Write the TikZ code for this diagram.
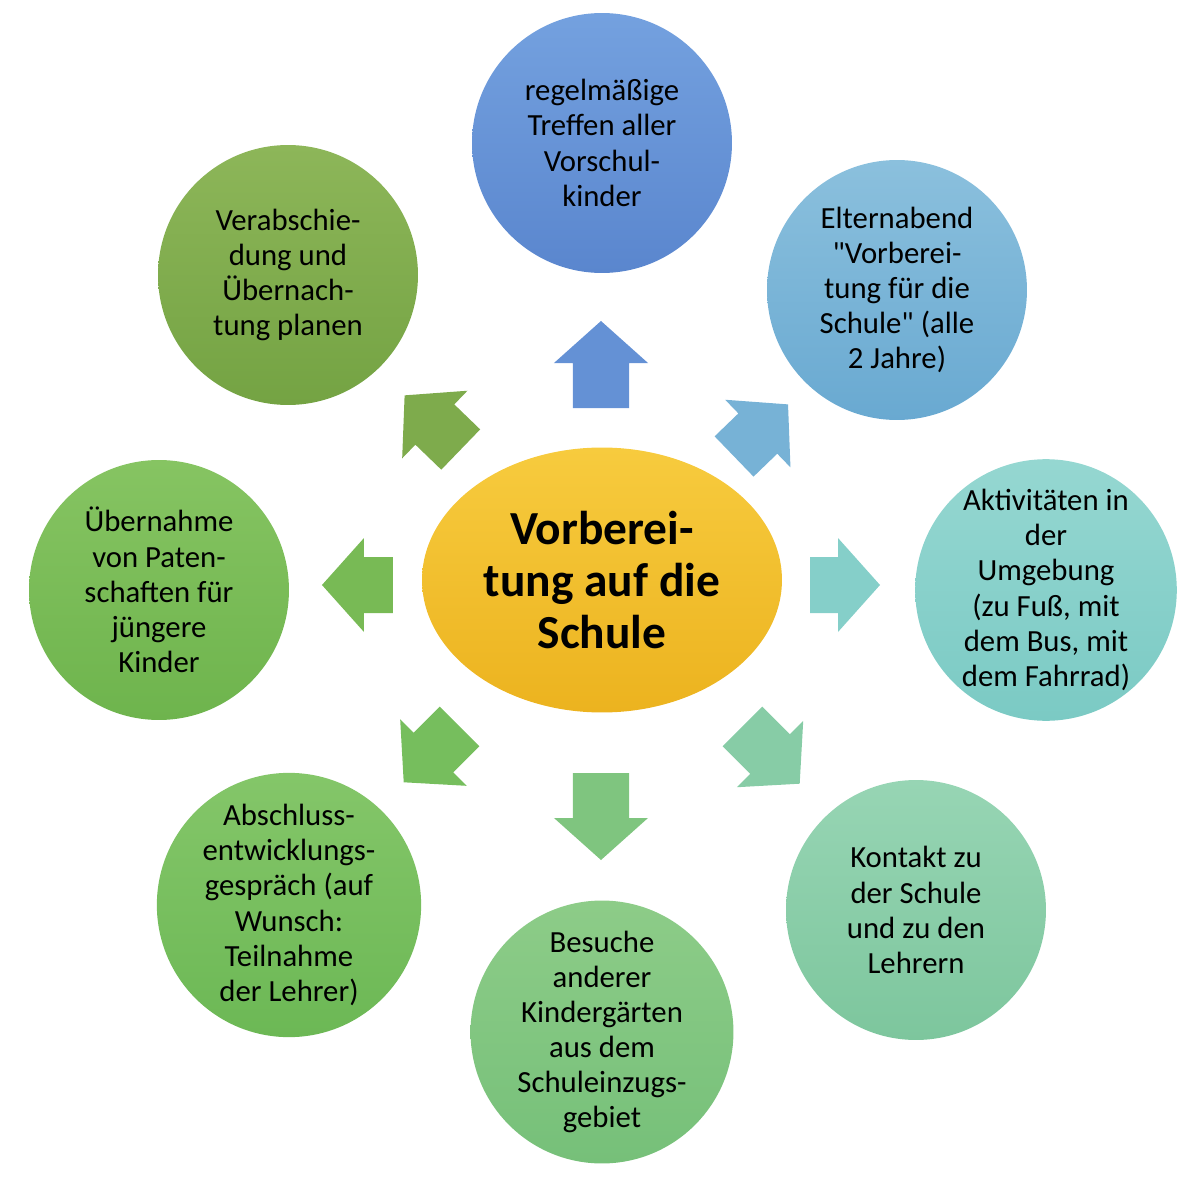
\documentclass[tikz,border=0pt]{standalone}
\usepackage{fontspec}
\setmainfont{Carlito}
\usetikzlibrary{shapes.geometric}

\definecolor{topA}{HTML}{74A1DF}\definecolor{topB}{HTML}{5A86CE}
\definecolor{trA}{HTML}{8BC0DD}\definecolor{trB}{HTML}{69A9D1}
\definecolor{rtA}{HTML}{95D7D1}\definecolor{rtB}{HTML}{7BCAC4}
\definecolor{brA}{HTML}{97D5B4}\definecolor{brB}{HTML}{7DC69D}
\definecolor{btA}{HTML}{8DCC88}\definecolor{btB}{HTML}{76C079}
\definecolor{blA}{HTML}{84C669}\definecolor{blB}{HTML}{6CB855}
\definecolor{ltA}{HTML}{86C462}\definecolor{ltB}{HTML}{6EB44D}
\definecolor{tlA}{HTML}{8DB659}\definecolor{tlB}{HTML}{74A343}
\definecolor{hubA}{HTML}{F7CB3E}\definecolor{hubB}{HTML}{ECB31F}

\tikzset{
  topic/.style={circle, minimum size=5.2cm, inner sep=0pt, align=center,
    font=\fontsize{17.5}{20}\selectfont},
  hub/.style={ellipse, minimum width=7.2cm, minimum height=5.3cm, inner sep=0pt,
    align=center, top color=hubA, bottom color=hubB,
    font=\fontsize{27}{29.8}\selectfont\bfseries}
}

\begin{document}
\begin{tikzpicture}[x=0.02cm, y=0.02cm]
  \useasboundingbox (-601,-602) rectangle (599,585);
  \node[hub] (hub) at (1,5) {Vorberei-\\tung auf die\\Schule};

  \node[topic, top color=topA, bottom color=topB] (treffen) at (1,442)
    {regelmäßige\\Treffen aller\\Vorschul-\\kinder};
  \node[topic, top color=trA, bottom color=trB] (eltern) at (296,295)
    {Elternabend\\\textquotedbl Vorberei-\\tung für die\\Schule\textquotedbl{} (alle\\2 Jahre)};
  \node[topic, top color=rtA, bottom color=rtB] (umgebung) at (445,-5)
    {Aktivitäten in\\der\\Umgebung\\(zu Fuß, mit\\dem Bus, mit\\dem Fahrrad)};
  \node[topic, top color=brA, bottom color=brB] (kontakt) at (315,-325)
    {Kontakt zu\\der Schule\\und zu den\\Lehrern};
  \node[topic, top color=btA, bottom color=btB] (besuche) at (1,-447)
    {Besuche\\anderer\\Kindergärten\\aus dem\\Schuleinzugs-\\gebiet};
  \node[topic, top color=blA, bottom color=blB] (gespraech) at (-312,-320)
    {Abschluss-\\entwicklungs-\\gespräch (auf\\Wunsch:\\Teilnahme\\der Lehrer)};
  \node[topic, top color=ltA, bottom color=ltB] (paten) at (-442,-5)
    {Übernahme\\von Paten-\\schaften für\\jüngere\\Kinder};
  \node[topic, top color=tlA, bottom color=tlB] (abschied) at (-313,310)
    {Verabschie-\\dung und\\Übernach-\\tung planen};

  % block arrows: angle / base / tip / colour
  \foreach \a/\r/\s/\c in {90/177/264/topB!60!topA, 44/185/260/trB!60!trA,
      0/209/279/rtB!60!rtA, -45/200/281/brB!60!brA, -90/188/275/btB!60!btA,
      -135/200/279/blB!60!blA, 180/208/279/ltB!60!ltA, 136/195/273/tlB!60!tlA}
    \fill[\c, rotate=\a] (\r,-28) -- (\s-42,-28) -- (\s-42,-47) -- (\s,0)
      -- (\s-42,47) -- (\s-42,28) -- (\r,28) -- cycle;
\end{tikzpicture}
\end{document}
